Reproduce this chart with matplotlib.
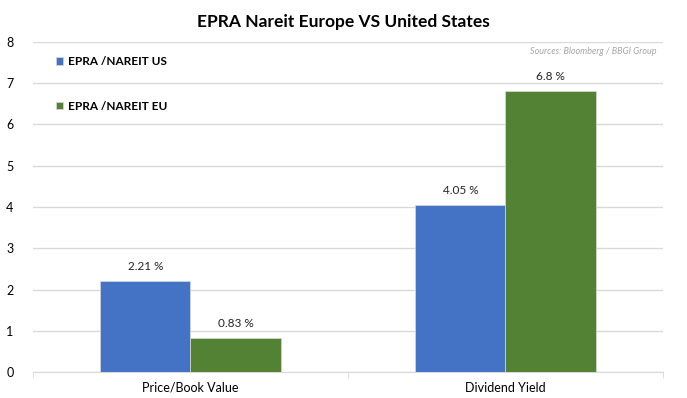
import matplotlib as mpl
mpl.use('Agg')
import matplotlib.pyplot as plt
import numpy as np

categories = ['Price/Book Value', 'Dividend Yield']
us_values = [2.21, 4.05]
eu_values = [0.83, 6.8]
series_names = ['EPRA /NAREIT US', 'EPRA /NAREIT EU']
yticks = [0, 1, 2, 3, 4, 5, 6, 7, 8]

plt.rcParams['font.family'] = ['Lato', 'DejaVu Sans']

blue = '#4472C4'
green = '#548235'

fig = plt.figure(figsize=(6.87, 3.98), dpi=100)
ax = fig.add_axes([0.048, 0.0653, 0.917, 0.8292])

x = np.arange(len(categories))
w = 0.286
b1 = ax.bar(x - w / 2, us_values, w, color=blue, edgecolor='#d9d9d9', linewidth=0.5,
            label=series_names[0], zorder=3)
b2 = ax.bar(x + w / 2, eu_values, w, color=green, edgecolor='#d9d9d9', linewidth=0.5,
            label=series_names[1], zorder=3)

for bars, vals in ((b1, us_values), (b2, eu_values)):
    for r, v in zip(bars, vals):
        ax.text(r.get_x() + r.get_width() / 2, v + 0.22, '{} %'.format(v),
                ha='center', va='bottom', fontsize=8.5, color='#222222')

ax.set_xlim(-0.5, 1.5)
ax.set_ylim(0, 8)
ax.set_yticks(yticks)
ax.set_yticklabels([str(t) for t in yticks], fontsize=9)
ax.set_xticks(x)
ax.set_xticklabels(categories, fontsize=9)
ax.set_xticks([-0.5, 0.5, 1.5], minor=True)
ax.tick_params(axis='x', which='major', length=0, pad=7)
ax.tick_params(axis='x', which='minor', length=4, color='#d9d9d9')
ax.tick_params(axis='y', length=0, pad=14)
ax.grid(axis='y', color='#d9d9d9', linewidth=1, zorder=0)
for s in ['top', 'right', 'left']:
    ax.spines[s].set_visible(False)
ax.spines['bottom'].set_color('#d9d9d9')

leg = ax.legend(loc='upper left', bbox_to_anchor=(0.02, 0.99), frameon=False,
                handlelength=0.6, handleheight=0.6, handletextpad=0.4,
                labelspacing=2.85, prop={'size': 8.5, 'weight': 'bold'})

ax.text(0.99, 0.985, 'Sources: Bloomberg / BBGI Group', transform=ax.transAxes,
        ha='right', va='top', fontsize=6.5, style='italic', color='#a6a6a6')

fig.text(0.5, 0.945, 'EPRA Nareit Europe VS United States', ha='center', va='center',
         fontsize=12.5, fontweight='bold')

fig.savefig('out.png', dpi=100)
